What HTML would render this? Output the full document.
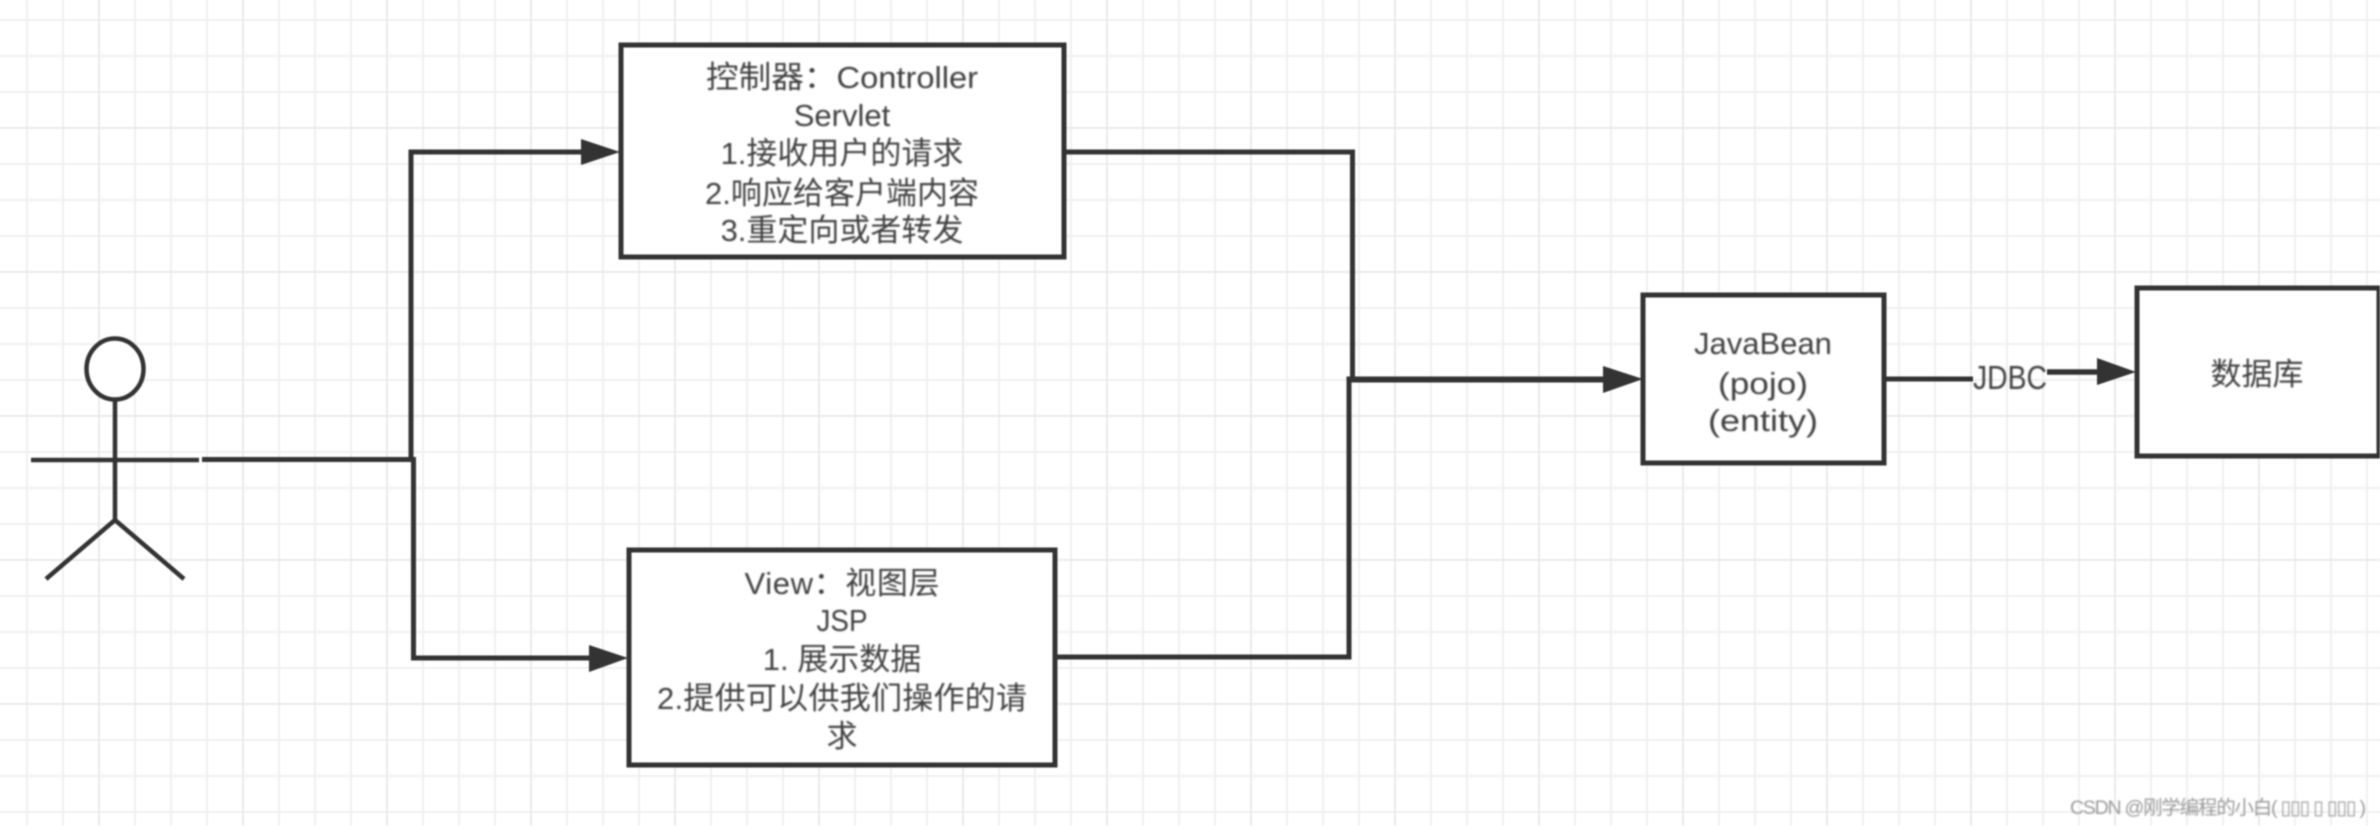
<!DOCTYPE html>
<html lang="zh">
<head>
<meta charset="utf-8">
<title>MVC diagram</title>
<style>
html,body{margin:0;padding:0;background:#fff;width:2380px;height:826px;overflow:hidden}
svg{display:block;filter:blur(0.7px)}
text{font-family:"Liberation Sans","Noto Sans CJK SC",sans-serif;font-size:31px;fill:#3f3f3f;text-anchor:middle}
.t{filter:blur(0.5px)}
</style>
</head>
<body>
<svg xmlns="http://www.w3.org/2000/svg" width="2380" height="826" viewBox="0 0 2380 826">
<defs>
<pattern id="minor" width="36" height="36" patternUnits="userSpaceOnUse" x="26" y="19">
<path d="M0 0V36M0 0H36" stroke="#f0f0f0" stroke-width="4" fill="none"/>
</pattern>
<pattern id="major" width="144" height="144" patternUnits="userSpaceOnUse" x="98" y="127">
<path d="M0 0V144M0 0H144" stroke="#e8e8e8" stroke-width="3" fill="none"/>
</pattern>
</defs>
<rect width="2380" height="826" fill="#fff"/>
<rect width="2380" height="826" fill="url(#minor)"/>
<rect width="2380" height="826" fill="url(#major)"/>

<g fill="#fff" stroke="#333" stroke-width="5">
<rect x="621" y="45" width="443" height="212"/>
<rect x="629" y="550" width="426" height="215"/>
<rect x="1643" y="295" width="241" height="168"/>
<rect x="2137" y="288" width="242" height="168"/>
</g>

<g fill="none" stroke="#333" stroke-width="5">
<path d="M202 459.5H413.5V658H592"/>
<path d="M411 459.5V152H585"/>
<path d="M1064 152H1352.5V379"/>
<path d="M1055 657H1349V379H1606"/>
<path d="M1349 381H1606" stroke-width="3"/>
<path d="M1884 379H1973"/>
<path d="M2047 372H2100" stroke-width="5.5"/>
</g>
<g fill="#333">
<polygon points="581,139 620,152 581,165"/>
<polygon points="589,645 628,658 589,672"/>
<polygon points="1603,366 1643,379 1603,393"/>
<polygon points="2097,358 2136,372 2097,385"/>
</g>

<g fill="none" stroke="#333" stroke-width="4.5">
<ellipse cx="115" cy="369" rx="28.5" ry="30.5" fill="#fff"/>
<path d="M115 401V520M31 460H199M46 579L115 520L184 579"/>
</g>

<g class="t">
<text x="842" y="88" textLength="272" lengthAdjust="spacingAndGlyphs">控制器：Controller</text>
<text x="842" y="126">Servlet</text>
<text x="842" y="164">1.接收用户的请求</text>
<text x="842" y="204" textLength="274">2.响应给客户端内容</text>
<text x="842" y="241">3.重定向或者转发</text>

<text x="842" y="594" textLength="195">View：视图层</text>
<text x="842" y="631" textLength="51" lengthAdjust="spacingAndGlyphs">JSP</text>
<text x="842" y="670">1. 展示数据</text>
<text x="842" y="709" textLength="370">2.提供可以供我们操作的请</text>
<text x="842" y="747">求</text>

<text x="1763" y="354">JavaBean</text>
<text x="1763" y="394" textLength="90" lengthAdjust="spacingAndGlyphs">(pojo)</text>
<text x="1763" y="431" textLength="110" lengthAdjust="spacingAndGlyphs">(entity)</text>
<text x="2257" y="385">数据库</text>
<text x="2010" y="389" textLength="74" lengthAdjust="spacingAndGlyphs" style="font-size:33px">JDBC</text>

<text x="2218" y="814" textLength="296" style="font-size:19.5px;fill:#999">CSDN @刚学编程的小白( ▯▯▯ ▯ ▯▯▯ )</text>
</g>
</svg>
</body>
</html>
